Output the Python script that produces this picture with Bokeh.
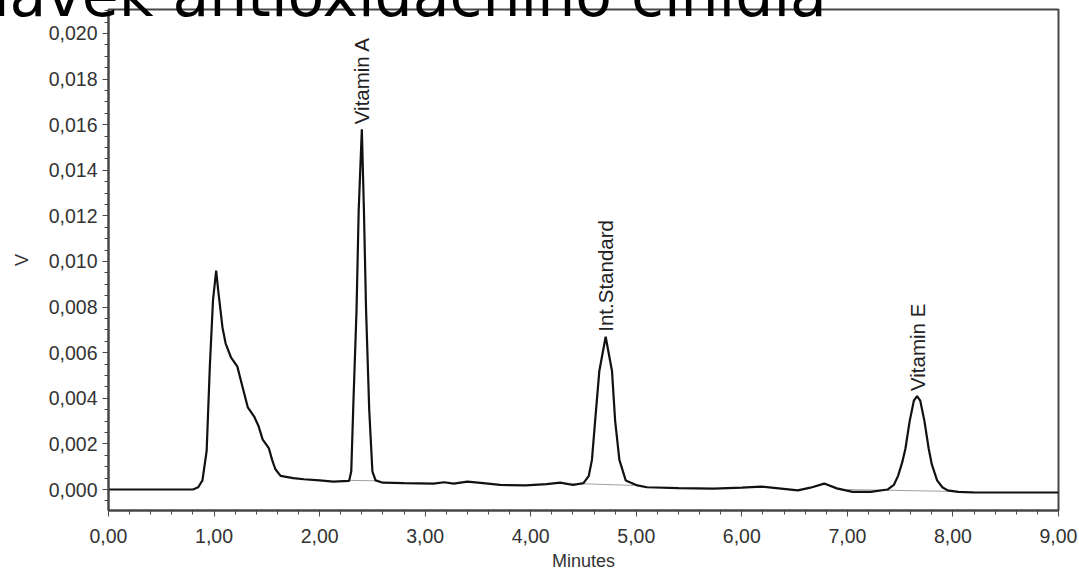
import math
from bokeh.plotting import figure
from bokeh.models import Range1d, FixedTicker, ColumnDataSource, Div, InlineStyleSheet
from bokeh.layouts import column
from bokeh.core.properties import value
from bokeh.embed import file_html
from bokeh.resources import INLINE

# ---- data (time in minutes, signal in V) ----
time_min = [0.00, 0.80, 0.85, 0.89, 0.93, 0.96, 0.99, 1.02, 1.04, 1.06, 1.08, 1.11,
            1.16, 1.22, 1.27, 1.32, 1.38, 1.42, 1.46, 1.52, 1.55, 1.58, 1.63, 1.75,
            1.85, 2.00, 2.13, 2.28, 2.30, 2.32, 2.35, 2.37, 2.40, 2.42, 2.44, 2.47,
            2.50, 2.53, 2.60, 2.80, 3.08, 3.18, 3.27, 3.40, 3.55, 3.71, 3.95, 4.15,
            4.28, 4.40, 4.50, 4.55, 4.58, 4.61, 4.65, 4.71, 4.77, 4.80, 4.84, 4.90,
            5.01, 5.10, 5.40, 5.73, 6.00, 6.18, 6.35, 6.53, 6.65, 6.78, 6.90, 7.05,
            7.22, 7.38, 7.44, 7.48, 7.52, 7.55, 7.59, 7.63, 7.66, 7.69, 7.73, 7.77,
            7.80, 7.85, 7.90, 7.95, 8.05, 8.19, 9.00]
signal_v = [0.0, 0.0, 0.0001, 0.0004, 0.0017, 0.0054, 0.0083, 0.0096, 0.0087, 0.0079, 0.0071, 0.0064,
            0.0058, 0.0054, 0.0045, 0.0036, 0.0032, 0.0028, 0.0022, 0.0018, 0.0013, 0.0009, 0.0006, 0.0005,
            0.00045, 0.0004, 0.00035, 0.00038, 0.0008, 0.0038, 0.0079, 0.0122, 0.0158, 0.0122, 0.0079, 0.0035,
            0.0008, 0.0004, 0.0003, 0.00028, 0.00026, 0.00032, 0.00026, 0.00035, 0.00028, 0.0002, 0.00018, 0.00024,
            0.0003, 0.0002, 0.00028, 0.0006, 0.0013, 0.0030, 0.0052, 0.0067, 0.0052, 0.0030, 0.0013, 0.0004,
            0.00018, 0.0001, 0.00006, 0.00004, 0.00008, 0.00013, 0.00005, -0.00004, 0.00008, 0.00026, 0.00005, -0.0001,
            -0.0001, 0.0, 0.0002, 0.0006, 0.0012, 0.0018, 0.0030, 0.0039, 0.0041, 0.0039, 0.0030, 0.0018,
            0.0011, 0.0004, 0.0001, -0.00004, -0.0001, -0.00013, -0.00013]

# integration baselines drawn by the software
base_t0 = [2.28, 4.30, 7.00]
base_v0 = [0.00040, 0.00028, 0.00000]
base_t1 = [2.56, 4.98, 8.20]
base_v1 = [0.00038, 0.00018, -0.00010]

# peak annotations
peak_names = ["Vitamin A", "Int.Standard", "Vitamin E"]
peak_times = [2.40, 4.71, 7.66]
peak_heights = [0.0158, 0.0067, 0.0041]

# axis ticks
x_ticks = [0, 1, 2, 3, 4, 5, 6, 7, 8, 9]
x_tick_labels = ["0,00", "1,00", "2,00", "3,00", "4,00", "5,00", "6,00", "7,00", "8,00", "9,00"]
y_ticks = [0.000, 0.002, 0.004, 0.006, 0.008, 0.010, 0.012, 0.014, 0.016, 0.018, 0.020]
y_tick_labels = ["0,000", "0,002", "0,004", "0,006", "0,008", "0,010", "0,012", "0,014", "0,016", "0,018", "0,020"]
x_minor = [round(i * 0.2, 2) for i in range(0, 46)]
y_minor = [round(-0.0005 + i * 0.0005, 4) for i in range(0, 44)]

title_text = "Přídavek antioxidačního činidla"

# ---- figure ----
p = figure(width=1079, height=576, output_backend="svg", toolbar_location=None,
           x_range=Range1d(0, 9), y_range=Range1d(-0.00092, 0.02105),
           min_border_left=108, min_border_right=21, min_border_top=9, min_border_bottom=66)
p.background_fill_color = "white"
p.border_fill_color = "white"
p.xgrid.visible = False
p.ygrid.visible = False
p.outline_line_color = "#474747"
p.outline_line_width = 2

p.segment(base_t0, base_v0, base_t1, base_v1, line_color="#a0a0a0", line_width=1)
p.line(time_min, signal_v, line_color="#111111", line_width=2.2)

src = ColumnDataSource(dict(x=peak_times, y=peak_heights, t=peak_names))
p.text(x="x", y="y", text="t", source=src, angle=math.pi / 2, y_offset=-5,
       text_align="left", text_baseline="middle", text_font=value("Liberation Sans"),
       text_font_size="20.5px", text_color="#222222")

for ax in (p.xaxis[0], p.yaxis[0]):
    ax.axis_line_color = "#474747"
    ax.axis_line_width = 2
    ax.major_tick_line_color = "#474747"
    ax.minor_tick_line_color = "#474747"
    ax.major_tick_out = 6
    ax.major_tick_in = 0
    ax.minor_tick_out = 4
    ax.minor_tick_in = 0
    ax.major_label_text_font = "Liberation Sans"
    ax.major_label_text_font_size = "19.5px"
    ax.major_label_text_color = "#333333"
    ax.axis_label_text_font = "Liberation Sans"
    ax.axis_label_text_font_size = "18px"
    ax.axis_label_text_font_style = "normal"
    ax.axis_label_text_color = "#333333"

p.xaxis[0].ticker = FixedTicker(ticks=x_ticks, minor_ticks=x_minor)
p.xaxis[0].major_label_overrides = {t: l for t, l in zip(x_ticks, x_tick_labels)}
p.yaxis[0].ticker = FixedTicker(ticks=y_ticks, minor_ticks=y_minor)
p.yaxis[0].major_label_overrides = {t: l for t, l in zip(y_ticks, y_tick_labels)}
p.xaxis[0].axis_label = "Minutes"
p.yaxis[0].axis_label = "V"
p.xaxis[0].major_label_standoff = 12
p.xaxis[0].axis_label_standoff = 5
p.yaxis[0].major_label_standoff = 5
p.yaxis[0].axis_label_standoff = 14

# large slide title that overlaps the chart's top edge (cut by the window)
title_css = InlineStyleSheet(css=""":host {
  position: absolute !important;
  top: -40px !important;
  left: -110px !important;
  z-index: 10 !important;
  overflow: visible !important;
  pointer-events: none;
}
div { white-space: nowrap; }""")
title = Div(text=title_text, width=1300, height=70, stylesheets=[title_css],
            styles={"font-family": "DejaVu Sans", "font-size": "60px", "line-height": "1",
                    "color": "black", "white-space": "nowrap"})

layout = column(title, p)
open("out.html", "w").write(file_html(layout, INLINE))
